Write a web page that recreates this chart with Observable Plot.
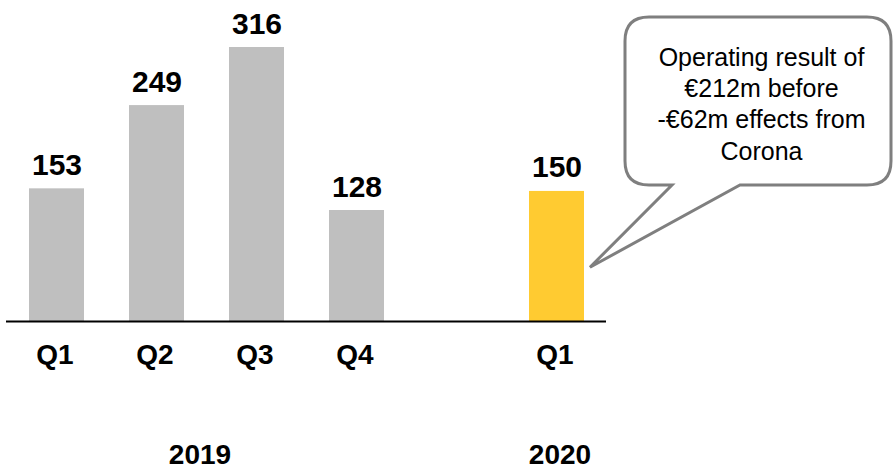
<!DOCTYPE html>
<html>
<head>
<meta charset="utf-8">
<script src="https://cdn.jsdelivr.net/npm/d3@7"></script>
<script src="https://cdn.jsdelivr.net/npm/@observablehq/plot@0.6"></script>
<style>
  html, body { margin: 0; padding: 0; background: #fff; }
  #chart svg { display: block; }
</style>
</head>
<body>
<div id="chart"></div>
<script>
// ---- data ----
const periods = ["2019 Q1", "2019 Q2", "2019 Q3", "2019 Q4", "2020 Q1"];
const quarters = ["Q1", "Q2", "Q3", "Q4", "Q1"];
const years = ["2019", "2019", "2019", "2019", "2020"];
const values = [153, 249, 316, 128, 150];
const yearLabels = ["2019", "2020"];
const yearAnchors = ["2019 Q2", "2020 Q1"];
const xDomain = ["2019 Q1", "2019 Q2", "2019 Q3", "2019 Q4", "gap", "2020 Q1"];
const noteText = "Operating result of\n€212m before\n-€62m effects from\nCorona";
const coronaEffect = 62;

const table = periods.map((p, i) => ({
  period: p, quarter: quarters[i], year: years[i], value: values[i]
}));
const yearTable = yearLabels.map((y, i) => ({ year: y, anchor: yearAnchors[i] }));

const GRAY = "#bfbfbf", YELLOW = "#ffcb31";
const FONT = "'Liberation Sans', Arial, Helvetica, sans-serif";

const chart = Plot.plot({
  width: 893,
  height: 469,
  marginLeft: 6,
  marginRight: 287,
  marginTop: 47,
  marginBottom: 148,
  style: { fontFamily: FONT, background: "#fff", color: "#000", overflow: "hidden" },
  x: { domain: xDomain, paddingInner: 0.45, paddingOuter: 0.225, axis: null },
  y: { domain: [0, 316], axis: null },
  marks: [
    Plot.barY(table, {
      x: "period", y: "value",
      fill: d => d.year === "2020" ? YELLOW : GRAY
    }),
    Plot.ruleY([0], { stroke: "#000", strokeWidth: 2 }),
    Plot.text(table, {
      x: "period", y: "value", text: d => String(d.value),
      dy: -14, lineAnchor: "bottom", fontSize: 30, fontWeight: "bold", fill: "#000"
    }),
    Plot.text(table, {
      x: "period", y: () => 0, text: "quarter",
      dx: -2, dy: 42, lineAnchor: "bottom", fontSize: 28, fontWeight: "bold", fill: "#000"
    }),
    Plot.text(yearTable.slice(0, 1), {
      x: "anchor", y: () => 0, text: "year",
      dx: 43, dy: 142, lineAnchor: "bottom", fontSize: 28, fontWeight: "bold", fill: "#000"
    }),
    Plot.text(yearTable.slice(1), {
      x: "anchor", y: () => 0, text: "year",
      dx: 3, dy: 142, lineAnchor: "bottom", fontSize: 28, fontWeight: "bold", fill: "#000"
    }),
    Plot.text([noteText], {
      frameAnchor: "top-right", text: d => d,
      dx: 155, dy: 112, lineAnchor: "bottom", lineHeight: 1.25,
      textAnchor: "middle", fontSize: 25, fill: "#000"
    })
  ]
});

// speech bubble (annotation) — inserted beneath the note text
(function () {
  const xs = chart.scale("x"), ys = chart.scale("y");
  const tipX = xs.apply("2020 Q1") + xs.bandwidth + 6;
  const tipY = ys.apply(coronaEffect);
  const x0 = 625, y0 = 17, x1 = 891, y1 = 185, r = 24;
  const bL = 672, bR = 740;
  const d = [
    `M${x0 + r},${y0}`, `H${x1 - r}`, `Q${x1},${y0} ${x1},${y0 + r}`,
    `V${y1 - r}`, `Q${x1},${y1} ${x1 - r},${y1}`, `H${bR}`,
    `L${tipX},${tipY}`, `L${bL},${y1}`, `H${x0 + r}`,
    `Q${x0},${y1} ${x0},${y1 - r}`, `V${y0 + r}`, `Q${x0},${y0} ${x0 + r},${y0}`, "Z"
  ].join(" ");
  const path = document.createElementNS("http://www.w3.org/2000/svg", "path");
  path.setAttribute("d", d);
  path.setAttribute("fill", "#fff");
  path.setAttribute("stroke", "#7f7f7f");
  path.setAttribute("stroke-width", "3");
  path.setAttribute("stroke-linejoin", "miter");
  chart.insertBefore(path, chart.lastChild);
})();

document.getElementById("chart").appendChild(chart);
</script>
</body>
</html>
